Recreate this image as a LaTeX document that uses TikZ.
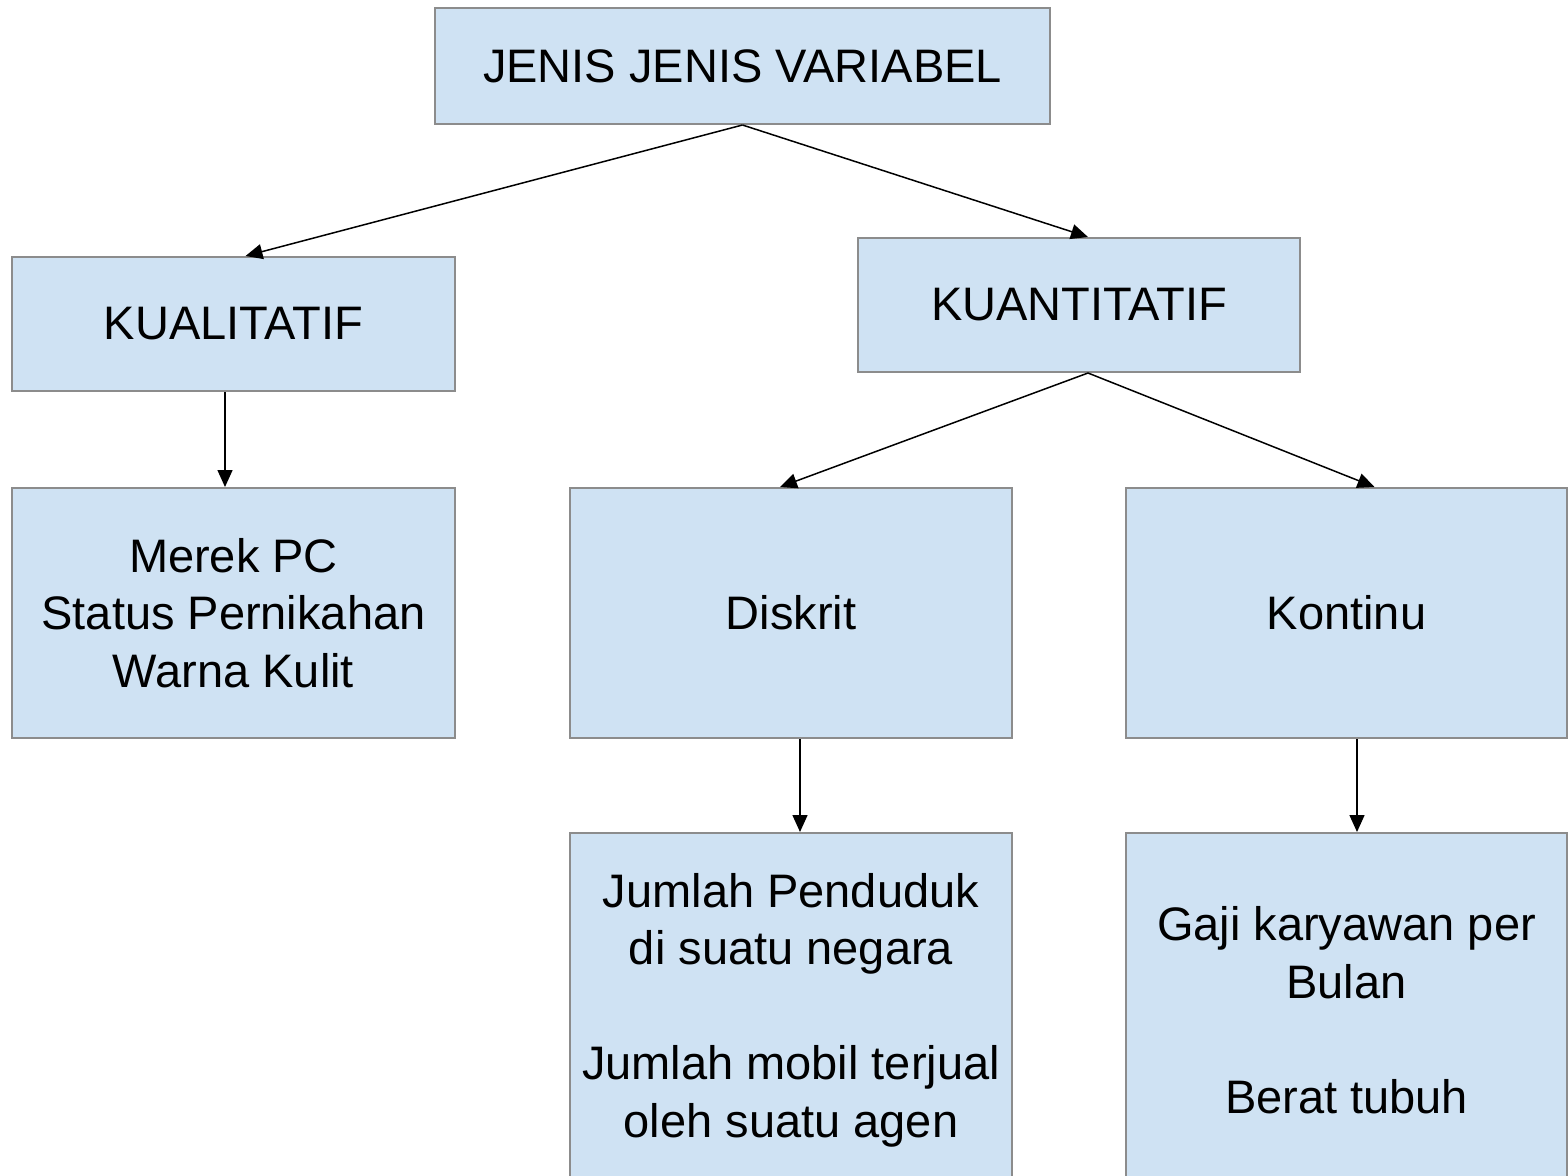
\documentclass[tikz,border=0pt]{standalone}
\usepackage{fontspec}
\setmainfont{Liberation Sans}
\usetikzlibrary{arrows.meta}
\definecolor{boxfill}{HTML}{CFE2F3}
\definecolor{boxline}{HTML}{8C8C8C}
\begin{document}
\begin{tikzpicture}[
		x=1pt, y=-1pt,
		>={Triangle[length=17pt, width=15pt]},
		box/.style={draw=boxline, fill=boxfill, line width=2pt, inner sep=0pt,
			align=center, minimum height=134pt,
			font=\fontsize{47}{57.5}\selectfont},
		link/.style={->, line width=1.5pt},
	]
	\useasboundingbox (0,0) rectangle (1568,1175);
	\clip (0,0) rectangle (1568,1175);
	\node[box, minimum width=615pt, minimum height=116pt] (root) at (742.5,66) {JENIS JENIS VARIABEL};
	\node[box, minimum width=443pt] (kual) at (233.5,324) {KUALITATIF};
	\node[box, minimum width=442pt] (kuan) at (1079,305) {KUANTITATIF};
	\node[box, minimum width=443pt, minimum height=250pt] (kualex) at (233.5,613) {Merek PC\\Status Pernikahan\\Warna Kulit};
	\node[box, minimum width=442pt, minimum height=250pt] (disk) at (791,613) {Diskrit};
	\node[box, minimum width=441pt, minimum height=250pt] (kont) at (1346.5,613) {Kontinu};
	\node[box, minimum width=442pt, minimum height=354pt] (diskex) at (791,1010) {Jumlah Penduduk\\di suatu negara\\[57.5pt]Jumlah mobil terjual\\oleh suatu agen};
	\node[box, minimum width=441pt, minimum height=354pt] (kontex) at (1346.5,1010) {Gaji karyawan per\\Bulan\\[57.5pt]Berat tubuh};
	\draw[link] (root.south) -- ([xshift=12pt]kual.north);
	\draw[link] (root.south) -- ([xshift=9pt]kuan.north);
	\draw[link] ([xshift=-8.5pt]kual.south) -- ([xshift=-8.5pt]kualex.north);
	\draw[link] ([xshift=9pt]kuan.south) -- ([xshift=-11pt]disk.north);
	\draw[link] ([xshift=9pt]kuan.south) -- ([xshift=28pt]kont.north);
	\draw[link] ([xshift=9pt]disk.south) -- ([xshift=9pt]diskex.north);
	\draw[link] ([xshift=10.5pt]kont.south) -- ([xshift=10.5pt]kontex.north);
\end{tikzpicture}
\end{document}
